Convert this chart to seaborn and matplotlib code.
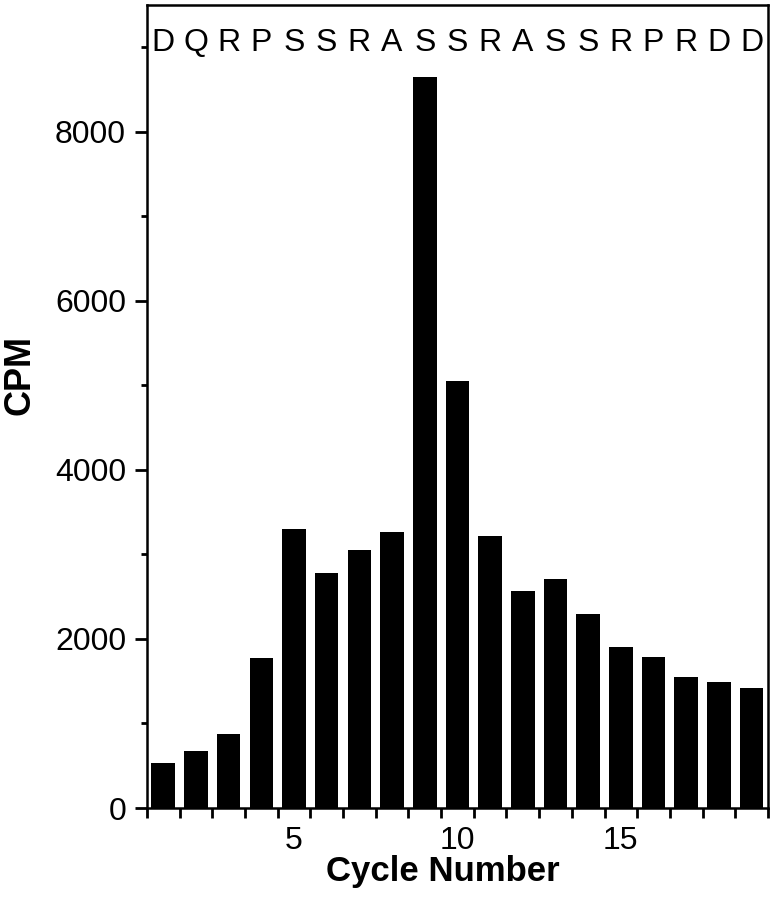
import numpy as np
import pandas as pd
import matplotlib
matplotlib.use("Agg")
import matplotlib.pyplot as plt
import seaborn as sns

# sequencing cycles and radioactivity
cycles = list(range(1, 20))
cpm = [530, 670, 875, 1780, 3300, 2775, 3050, 3260, 8650, 5050,
       3220, 2565, 2705, 2290, 1905, 1790, 1550, 1490, 1415]
residues = ["D", "Q", "R", "P", "S", "S", "R", "A", "S", "S",
            "R", "A", "S", "S", "R", "P", "R", "D", "D"]

data = pd.DataFrame({"Cycle": cycles, "CPM": cpm})

sns.set_style("ticks")
plt.rcParams["font.family"] = ["Liberation Sans", "DejaVu Sans"]
plt.rcParams["text.color"] = "black"
plt.rcParams["axes.labelcolor"] = "black"
plt.rcParams["xtick.color"] = "black"
plt.rcParams["ytick.color"] = "black"

fig = plt.figure(figsize=(7.73, 8.99), dpi=100)
ax = fig.add_axes([0.190, 0.1012, 0.8035, 0.8933])

sns.barplot(data=data, x="Cycle", y="CPM", native_scale=True, color="black",
            width=0.72, edgecolor="black", linewidth=0, ax=ax)

ax.set_xlim(0.5, 19.5)
ax.set_ylim(0, 9500)

# x: labels at 5, 10, 15, ticks between the bars
ax.set_xticks([5, 10, 15])
ax.set_xticks(np.arange(0.5, 20, 1), minor=True)
ax.tick_params(axis="x", which="major", length=0, pad=13, labelsize=23)
ax.tick_params(axis="x", which="minor", length=7, width=2, direction="out")

ax.set_yticks(np.arange(0, 8001, 2000))
ax.set_yticks(np.arange(0, 9001, 1000), minor=True)
ax.tick_params(axis="y", which="major", length=9, width=2, pad=6, labelsize=23)
ax.tick_params(axis="y", which="minor", length=4, width=2)

for side in ["left", "right", "top", "bottom"]:
    ax.spines[side].set_visible(True)
    ax.spines[side].set_linewidth(1.8)
    ax.spines[side].set_color("black")

ax.set_xlabel("Cycle Number", fontsize=25, fontweight="bold")
ax.set_ylabel("CPM", fontsize=26, fontweight="bold")
ax.xaxis.set_label_coords(0.477, -0.0796)
ax.yaxis.set_label_coords(-0.204, 0.539)
ax.xaxis.label.set_va("center")
ax.yaxis.label.set_va("center")

# residue identified at each cycle
for c, r in zip(cycles, residues):
    ax.text(c, 0.953, r, transform=ax.get_xaxis_transform(),
            ha="center", va="center", fontsize=23)

fig.savefig("out.png", dpi=100)
